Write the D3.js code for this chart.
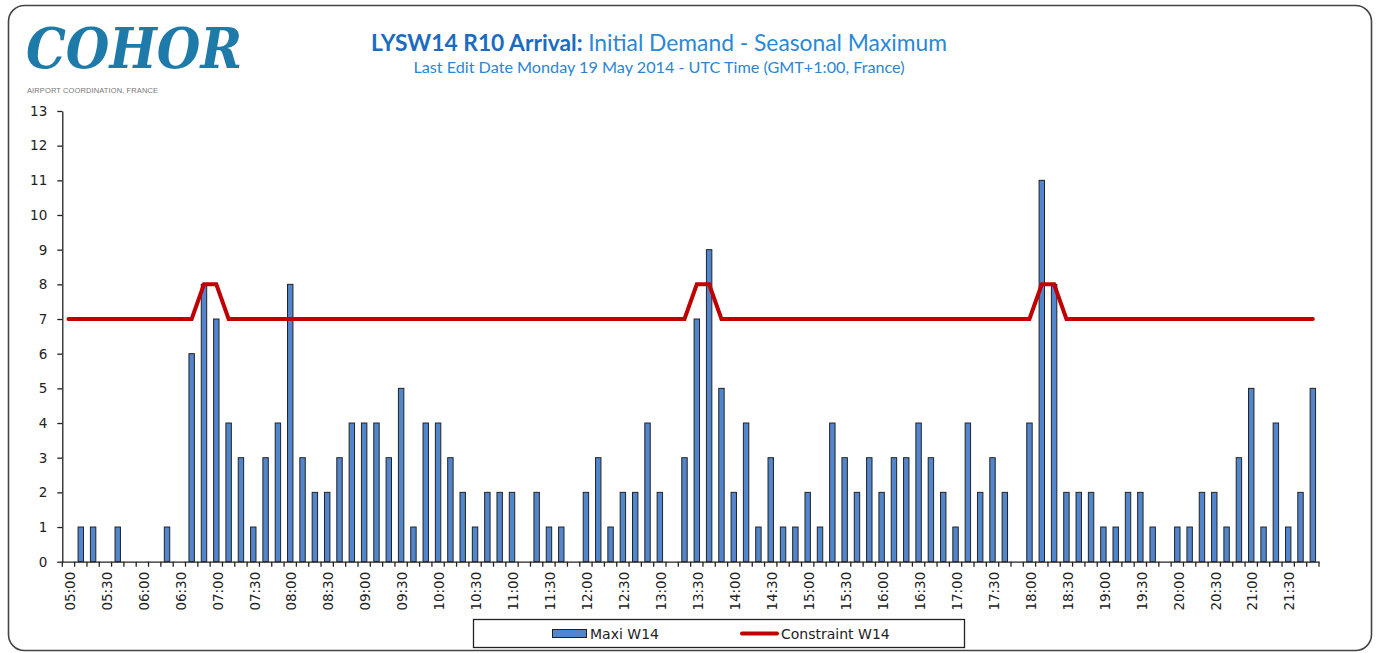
<!DOCTYPE html>
<html>
<head>
<meta charset="utf-8">
<script src="https://cdn.jsdelivr.net/npm/d3@7"></script>
<style>
  body { margin: 0; background: #fff; }
  svg { display: block; }
</style>
</head>
<body>
<svg id="chart" width="1380" height="653"></svg>
<script>
// data - 10 minute slots from 05:00 to 21:50
var slots = [];
for (var h = 5; h <= 21; h++) {
    for (var m = 0; m < 60; m += 10) {
        slots.push((h < 10 ? "0" : "") + h + ":" + (m < 10 ? "0" : "") + m);
    }
}

var maxiW14 = [
    0, 1, 1, 0, 1, 0, 0, 0, 1, 0,
    6, 8, 7, 4, 3, 1, 3, 4, 8, 3,
    2, 2, 3, 4, 4, 4, 3, 5, 1, 4,
    4, 3, 2, 1, 2, 2, 2, 0, 2, 1,
    1, 0, 2, 3, 1, 2, 2, 4, 2, 0,
    3, 7, 9, 5, 2, 4, 1, 3, 1, 1,
    2, 1, 4, 3, 2, 3, 2, 3, 3, 4,
    3, 2, 1, 4, 2, 3, 2, 0, 4, 11,
    8, 2, 2, 2, 1, 1, 2, 2, 1, 0,
    1, 1, 2, 2, 1, 3, 5, 1, 4, 1,
    2, 5
];

var constraintW14 = [
    7, 7, 7, 7, 7, 7, 7, 7, 7, 7,
    7, 8, 8, 7, 7, 7, 7, 7, 7, 7,
    7, 7, 7, 7, 7, 7, 7, 7, 7, 7,
    7, 7, 7, 7, 7, 7, 7, 7, 7, 7,
    7, 7, 7, 7, 7, 7, 7, 7, 7, 7,
    7, 8, 8, 7, 7, 7, 7, 7, 7, 7,
    7, 7, 7, 7, 7, 7, 7, 7, 7, 7,
    7, 7, 7, 7, 7, 7, 7, 7, 7, 8,
    8, 7, 7, 7, 7, 7, 7, 7, 7, 7,
    7, 7, 7, 7, 7, 7, 7, 7, 7, 7,
    7, 7
];

var yTicks = [0, 1, 2, 3, 4, 5, 6, 7, 8, 9, 10, 11, 12, 13];
var xLabels = slots.filter(function(d, i) { return i % 3 == 0; });

var svg = d3.select("#chart");

// frame
svg.append("rect")
    .attr("x", 8.5).attr("y", 5.5)
    .attr("width", 1363).attr("height", 645)
    .attr("rx", 16)
    .attr("fill", "#fff")
    .attr("stroke", "#444")
    .attr("stroke-width", 1.6);

// logo
svg.append("text")
    .attr("x", 26).attr("y", 68)
    .attr("font-family", "DejaVu Serif")
    .attr("font-style", "italic")
    .attr("font-weight", "bold")
    .attr("font-size", 56)
    .attr("textLength", 216)
    .attr("lengthAdjust", "spacingAndGlyphs")
    .attr("fill", "#1e7aa8")
    .text("COHOR");

svg.append("text")
    .attr("x", 27).attr("y", 93)
    .attr("font-family", "Liberation Sans Narrow, Liberation Sans")
    .attr("font-size", 7.5)
    .attr("textLength", 131)
    .attr("fill", "#777")
    .text("AIRPORT COORDINATION, FRANCE");

// titles
var title = svg.append("text")
    .attr("x", 659).attr("y", 51)
    .attr("text-anchor", "middle")
    .attr("font-family", "Lato")
    .attr("font-size", 22.8);
title.append("tspan").attr("font-weight", "bold").attr("fill", "#1b6cc0").text("LYSW14 R10 Arrival: ");
title.append("tspan").attr("fill", "#2a88d6").text("Initial Demand - Seasonal Maximum");

svg.append("text")
    .attr("x", 659).attr("y", 73)
    .attr("text-anchor", "middle")
    .attr("font-family", "Lato")
    .attr("font-size", 16.2)
    .attr("fill", "#2a86d3")
    .text("Last Edit Date Monday 19 May 2014 - UTC Time (GMT+1:00, France)");

// scales
var x = d3.scaleBand().domain(slots).range([62.3, 1319]).padding(0);
var y = d3.scaleLinear().domain([0, 13]).range([561.7, 111]);
var barW = x.bandwidth() * 0.44;

// bars
var bars = svg.append("g").attr("class", "bars");
maxiW14.forEach(function(v, i) {
    if (v <= 0) return;
    bars.append("rect")
        .attr("x", x(slots[i]) + (x.bandwidth() - barW) / 2)
        .attr("y", y(v))
        .attr("width", barW)
        .attr("height", y(0) - y(v))
        .attr("fill", "#5286cc")
        .attr("stroke", "#222")
        .attr("stroke-width", 1);
});

// constraint line
var line = d3.line()
    .x(function(d, i) { return x(slots[i]) + x.bandwidth() / 2; })
    .y(function(d) { return y(d); });

svg.append("path")
    .datum(constraintW14)
    .attr("d", line)
    .attr("fill", "none")
    .attr("stroke", "#c00000")
    .attr("stroke-width", 4)
    .attr("stroke-linecap", "round");

// y axis
var yAxis = svg.append("g")
    .attr("transform", "translate(62.3,0)")
    .call(d3.axisLeft(y).tickValues(yTicks).tickSize(5).tickPadding(10).tickSizeOuter(0));
yAxis.select(".domain").attr("stroke", "#222").attr("stroke-width", 1.3);
yAxis.selectAll(".tick line").attr("stroke", "#222").attr("stroke-width", 1.3);
yAxis.selectAll("text")
    .attr("font-family", "DejaVu Sans")
    .attr("font-size", 13.5)
    .attr("fill", "#222");

// x axis
var xAxis = svg.append("g")
    .attr("transform", "translate(0," + y(0) + ")")
    .call(d3.axisBottom(x).tickValues(xLabels).tickSize(0).tickSizeOuter(0));
xAxis.select(".domain").attr("stroke", "#222").attr("stroke-width", 1.3);
xAxis.selectAll("text")
    .attr("font-family", "DejaVu Sans")
    .attr("font-size", 13.5)
    .attr("fill", "#222")
    .attr("text-anchor", "end")
    .attr("transform", "rotate(-90)")
    .attr("x", -10)
    .attr("y", 1.5)
    .attr("dy", "0.35em");

// boundary ticks between every slot
var bounds = slots.map(function(s) { return x(s); }).concat([x.range()[1]]);
xAxis.selectAll(".btick")
    .data(bounds)
    .enter()
    .append("line")
    .attr("class", "btick")
    .attr("x1", function(d) { return d; })
    .attr("x2", function(d) { return d; })
    .attr("y1", 0)
    .attr("y2", 5)
    .attr("stroke", "#222")
    .attr("stroke-width", 1.3);

// legend
var legend = svg.append("g");
legend.append("rect")
    .attr("x", 473.5).attr("y", 619.5)
    .attr("width", 491).attr("height", 28)
    .attr("fill", "#fff")
    .attr("stroke", "#222")
    .attr("stroke-width", 1.3);
legend.append("rect")
    .attr("x", 552.5).attr("y", 629.5)
    .attr("width", 34).attr("height", 8)
    .attr("fill", "#5286cc")
    .attr("stroke", "#222")
    .attr("stroke-width", 1);
legend.append("text")
    .attr("x", 590).attr("y", 639)
    .attr("font-family", "DejaVu Sans")
    .attr("font-size", 14)
    .attr("fill", "#222")
    .text("Maxi W14");
legend.append("line")
    .attr("x1", 742).attr("x2", 777)
    .attr("y1", 633.5).attr("y2", 633.5)
    .attr("stroke", "#c00000")
    .attr("stroke-width", 4)
    .attr("stroke-linecap", "round");
legend.append("text")
    .attr("x", 781).attr("y", 639)
    .attr("font-family", "DejaVu Sans")
    .attr("font-size", 14)
    .attr("fill", "#222")
    .text("Constraint W14");
</script>
</body>
</html>
